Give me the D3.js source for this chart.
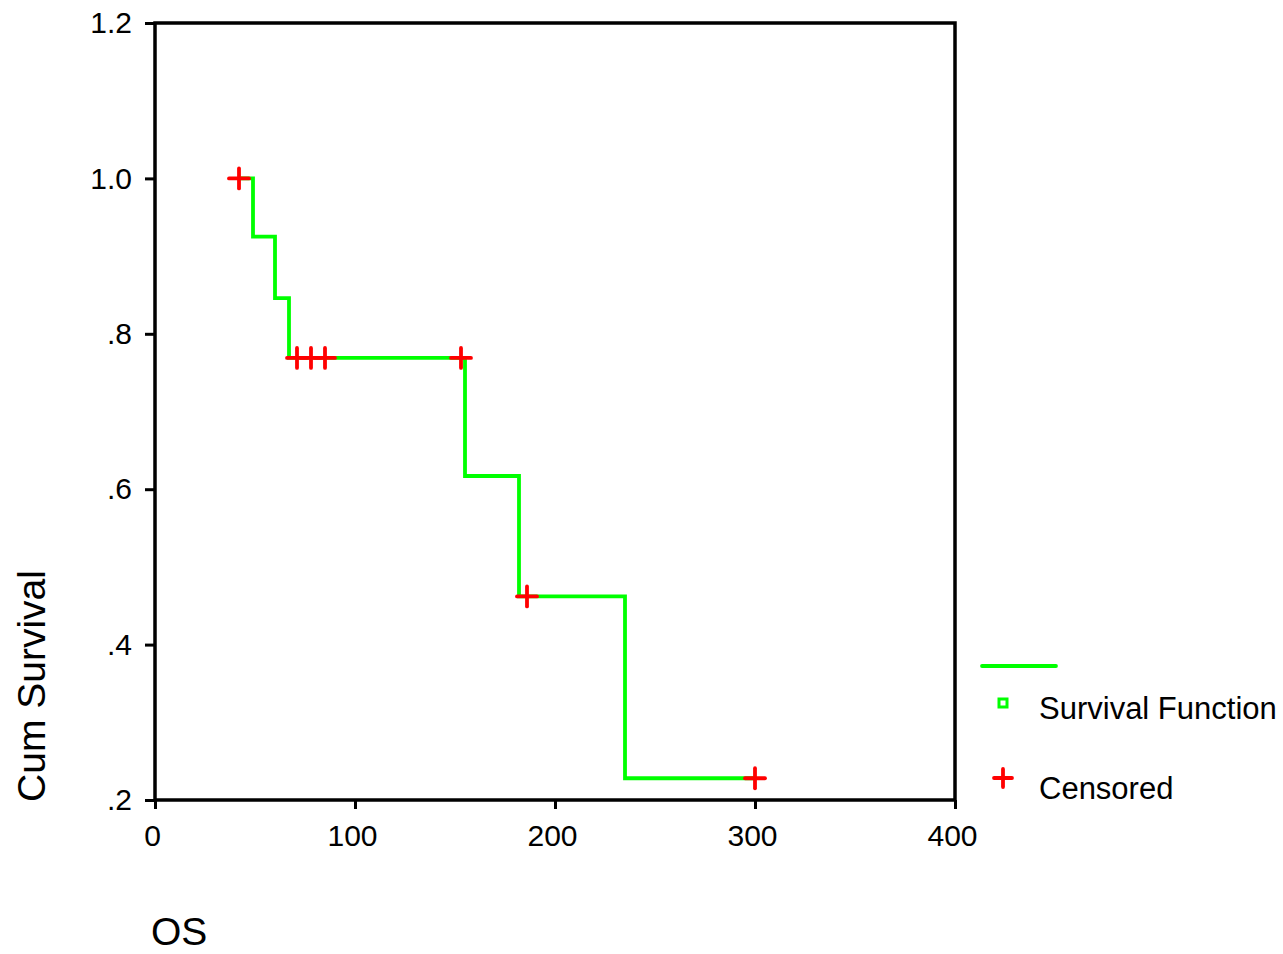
<!DOCTYPE html>
<html>
<head>
<meta charset="utf-8">
<script src="https://cdn.jsdelivr.net/npm/d3@7"></script>
<style>
  body { margin: 0; background: #fff; }
  text { font-family: "Liberation Sans", Arial, sans-serif; fill: #000; }
</style>
</head>
<body>
<script>
// survival curve: time points and cum survival after each step
const stepTimes = [42, 49, 60, 67, 155, 182, 235, 300]
const stepSurv = [1.0, 0.925, 0.846, 0.769, 0.617, 0.462, 0.228, 0.228]

// censored cases
const censorTimes = [42, 71, 78, 85, 153, 186, 300]
const censorSurv = [1.0, 0.769, 0.769, 0.769, 0.769, 0.462, 0.228]

const xTicks = [0, 100, 200, 300, 400]
const yTicks = [0.2, 0.4, 0.6, 0.8, 1.0, 1.2]
const legendLabels = ["Survival Function", "Censored"]

const width = 1283
const height = 954
const plotLeft = 155, plotRight = 955, plotTop = 23, plotBottom = 800

const green = "#00ff00"
const red = "#ff0000"

const xScale = d3.scaleLinear().domain([0, 400]).range([plotLeft, plotRight])
const yScale = d3.scaleLinear().domain([0.2, 1.2]).range([plotBottom, plotTop])

let svg = d3.select("body").append("svg")
    .attr("width", width)
    .attr("height", height)

// frame
svg.append("rect")
    .attr("x", plotLeft)
    .attr("y", plotTop)
    .attr("width", plotRight - plotLeft)
    .attr("height", plotBottom - plotTop)
    .attr("fill", "none")
    .attr("stroke", "#000")
    .attr("stroke-width", 3.5)

// x axis
let xAxis = svg.append("g")
    .attr("transform", `translate(0, ${plotBottom})`)
    .call(d3.axisBottom(xScale).tickValues(xTicks).tickSize(9).tickPadding(16).tickFormat(d3.format("d")))
xAxis.select(".domain").remove()
xAxis.selectAll("line").attr("stroke", "#000").attr("stroke-width", 3)
xAxis.selectAll("text")
    .attr("font-size", 30)
    .attr("dx", -3)
    .attr("font-family", "Liberation Sans, Arial, sans-serif")

// y axis
let yAxis = svg.append("g")
    .attr("transform", `translate(${plotLeft}, 0)`)
    .call(d3.axisLeft(yScale).tickValues(yTicks).tickSize(10).tickPadding(13)
        .tickFormat(d => d >= 1 ? d.toFixed(1) : d.toFixed(1).replace(/^0/, "")))
yAxis.select(".domain").remove()
yAxis.selectAll("line").attr("stroke", "#000").attr("stroke-width", 3)
yAxis.selectAll("text").attr("font-size", 30).attr("font-family", "Liberation Sans, Arial, sans-serif")

// axis titles
svg.append("text")
    .attr("x", 151)
    .attr("y", 945)
    .attr("font-size", 39)
    .text("OS")

svg.append("text")
    .attr("transform", "translate(45, 686) rotate(-90)")
    .attr("text-anchor", "middle")
    .attr("font-size", 39)
    .text("Cum Survival")

// survival step line
const stepData = stepTimes.map((t, i) => ({t: t, s: stepSurv[i]}))
const line = d3.line()
    .x(d => xScale(d.t))
    .y(d => yScale(d.s))
    .curve(d3.curveStepAfter)

svg.append("path")
    .datum(stepData)
    .attr("d", line)
    .attr("fill", "none")
    .attr("stroke", green)
    .attr("stroke-width", 3.8)

// censored marks
function plus(g, cx, cy, r) {
    g.append("line").attr("x1", cx - r).attr("x2", cx + r).attr("y1", cy).attr("y2", cy)
    g.append("line").attr("x1", cx).attr("x2", cx).attr("y1", cy - r).attr("y2", cy + r)
}

let marks = svg.append("g")
    .attr("stroke", red)
    .attr("stroke-width", 3.8)
    .attr("stroke-linecap", "round")
censorTimes.forEach((t, i) => plus(marks, xScale(t), yScale(censorSurv[i]), 10))

// legend
let legend = svg.append("g")
legend.append("line")
    .attr("x1", 982).attr("x2", 1056)
    .attr("y1", 666).attr("y2", 666)
    .attr("stroke", green)
    .attr("stroke-width", 3.8)
    .attr("stroke-linecap", "round")
legend.append("rect")
    .attr("x", 999).attr("y", 699)
    .attr("width", 8).attr("height", 8)
    .attr("fill", "#fff")
    .attr("stroke", green)
    .attr("stroke-width", 3)
let legPlus = legend.append("g")
    .attr("stroke", red)
    .attr("stroke-width", 3.8)
    .attr("stroke-linecap", "round")
plus(legPlus, 1003, 778, 9)

legend.selectAll("text.leg")
    .data(legendLabels)
    .enter()
    .append("text")
        .attr("class", "leg")
        .attr("x", 1039)
        .attr("y", (d, i) => i == 0 ? 719 : 799)
        .attr("font-size", 31)
        .text(d => d)
</script>
</body>
</html>
